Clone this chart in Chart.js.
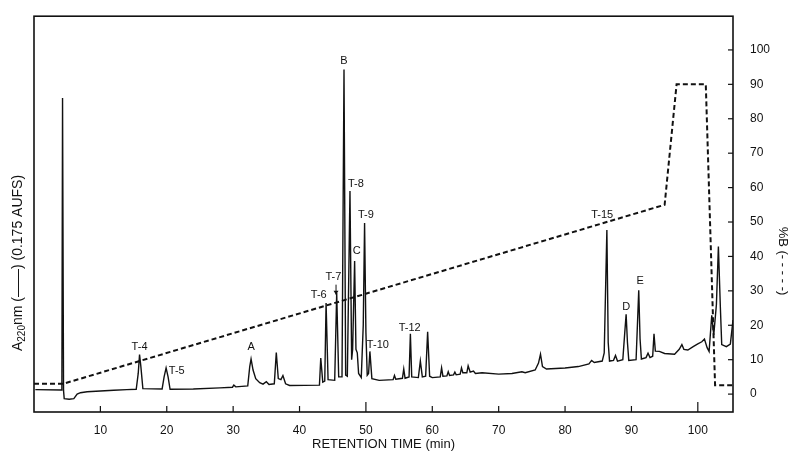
<!DOCTYPE html>
<html>
<head>
<meta charset="utf-8">
<script src="https://cdn.jsdelivr.net/npm/chart.js@4.4.0/dist/chart.umd.min.js"></script>
<style>
    html, body { margin: 0; padding: 0; background: #fff; }
    #contenedor { width: 792px; height: 462px; }
</style>
</head>
<body>
<div id="contenedor"><canvas id="miGrafico" width="792" height="462"></canvas></div>
<script>
// cromatograma A220 (en unidades del eje derecho)
const tiempos = [
    0.2, 4.1, 4.2, 4.3, 4.45, 4.55, 5.3, 6.0, 6.5, 7.0,
    8, 10, 12, 14, 15.4, 15.7, 15.9, 16.1, 16.4, 19.3,
    19.6, 19.9, 20.2, 20.5, 24, 28, 29.9, 30.1, 30.4, 32.2,
    32.5, 32.7, 33.0, 33.4, 34.0, 34.5, 35.0, 35.4, 36.2, 36.5,
    36.8, 37.2, 37.5, 37.9, 38.5, 43.0, 43.2, 43.5, 43.8, 44.0,
    44.3, 45.3, 45.6, 45.9, 46.4, 46.7, 46.95, 47.2, 47.6, 47.85,
    48.0, 48.3, 48.5, 48.7, 48.9, 49.3, 49.6, 49.8, 50.0, 50.2,
    50.4, 50.6, 50.9, 52, 54.1, 54.3, 54.5, 55.5, 55.7, 55.9,
    56.5, 56.7, 56.9, 57.9, 58.2, 58.5, 59.0, 59.3, 59.6, 60.0,
    61.2, 61.4, 61.6, 62.2, 62.4, 62.6, 63.2, 63.4, 63.6, 64.2,
    64.4, 64.6, 65.2, 65.4, 65.7, 66.2, 66.5, 67.5, 70, 72,
    73.5, 74.0, 75.5, 76.0, 76.3, 76.6, 77.2, 80, 82, 83.6,
    84.0, 84.4, 85.6, 85.9, 86.1, 86.3, 86.5, 86.7, 87.3, 87.6,
    87.9, 88.7, 89.0, 89.2, 89.4, 89.6, 90.7, 90.9, 91.1, 91.3,
    91.5, 92.2, 92.5, 92.8, 93.2, 93.4, 93.6, 94.2, 95.0, 96.5,
    97.2, 97.6, 97.9, 98.5, 99.3, 100.0, 100.6, 101.0, 101.4, 101.7,
    102.1, 102.4, 102.8, 103.1, 103.4, 103.6, 104.3, 104.9, 105.3
];
const absorbancia = [
    1.3, 1.2, 1.4, 86, 1, -1.3, -1.5, -1.3, 0.0, 0.4,
    0.7, 0.9, 1.1, 1.3, 1.4, 6, 11.5, 8, 1.6, 1.5,
    5, 7.6, 5, 1.4, 1.5, 1.8, 2.0, 2.6, 2.1, 2.4,
    8, 10.2, 7, 4.5, 3.3, 2.9, 3.6, 2.8, 3.0, 12.1,
    4.5, 4.2, 5.4, 3, 2.5, 2.6, 10.5, 3.5, 3.8, 26.5,
    4.2, 4.0, 29.4, 5, 5, 94.3, 5.5, 5.2, 59, 10,
    13, 38.7, 13, 12, 6, 4.8, 20, 49.7, 18, 5.5,
    6, 12.4, 4.5, 4, 4.2, 5.4, 4.3, 4.6, 7.3, 4.6,
    5, 17.5, 5, 4.8, 9.6, 5, 5.2, 18.1, 5.2, 4.8,
    5, 7.6, 5.2, 5.3, 6.5, 5.4, 5.6, 6.4, 5.6, 5.8,
    7.6, 6.2, 6.2, 8.2, 6.4, 6.7, 6.0, 6.2, 5.8, 6,
    6.5, 6.2, 7.0, 9, 11.6, 8, 7.3, 7.6, 8.0, 8.8,
    9.8, 9.2, 9.6, 12, 30, 47.7, 15, 9.6, 9.8, 11.2,
    9.6, 10, 18, 23.2, 15, 9.8, 10, 20, 30.2, 16,
    10.2, 10.6, 11.9, 10.6, 11, 17.5, 12.5, 12.4, 11.8, 11.6,
    13, 14.4, 13, 12.8, 13.8, 14.6, 15.2, 16, 13.5, 12.4,
    22.9, 17.2, 26, 42.9, 25, 14.4, 13.8, 14.5, 21.5
];

// gradiente %B
const tiemposGradiente = [0, 4.4, 95, 96.8, 101.2, 102.0, 102.6, 105.3];
const porcentajeB = [3, 3, 55, 90, 90, 40, 2.6, 2.6];

const ticksTiempo = [10, 20, 30, 40, 50, 60, 70, 80, 90, 100];
const ticksPorcentaje = [0, 10, 20, 30, 40, 50, 60, 70, 80, 90, 100];

const nombresPicos = ['T-4', 'T-5', 'A', 'T-6', 'T-7', 'B', 'T-8', 'C', 'T-9', 'T-10', 'T-12', 'T-15', 'D', 'E'];
const tiemposEtiqueta = [15.9, 21.5, 32.7, 42.9, 45.1, 46.7, 48.5, 48.6, 50.0, 51.8, 56.6, 85.6, 89.2, 91.3];
const nivelesEtiqueta = [13.8, 6.8, 13.6, 28.8, 33.9, 96.9, 61, 41.5, 52, 14.4, 19.2, 52, 25.4, 33];
const flechaT7 = [45.5, 31.8, 28.9];

const fuente = '"Liberation Sans", Arial, sans-serif';

const marcoYTextos = {
    id: 'marcoYTextos',
    afterDraw(chart) {
        const { ctx, chartArea: area, scales: { x, y } } = chart;
        ctx.save();
        ctx.strokeStyle = '#111';
        ctx.fillStyle = '#111';
        ctx.lineWidth = 1.6;
        ctx.strokeRect(area.left, area.top, area.right - area.left, area.bottom - area.top);

        ctx.lineWidth = 1.2;
        ticksTiempo.forEach(t => {
            const px = x.getPixelForValue(t);
            const largo = t % 50 === 0 ? 10 : 6;
            ctx.beginPath();
            ctx.moveTo(px, area.bottom);
            ctx.lineTo(px, area.bottom - largo);
            ctx.stroke();
        });
        ticksPorcentaje.forEach(v => {
            const py = y.getPixelForValue(v);
            ctx.beginPath();
            ctx.moveTo(area.right, py);
            ctx.lineTo(area.right - 5, py);
            ctx.stroke();
        });

        // nombres de los picos
        ctx.font = `11px ${fuente}`;
        ctx.textAlign = 'center';
        ctx.textBaseline = 'middle';
        nombresPicos.forEach((nombre, i) => {
            ctx.fillText(nombre, x.getPixelForValue(tiemposEtiqueta[i]), y.getPixelForValue(nivelesEtiqueta[i]));
        });

        // flecha de T-7
        const fx = x.getPixelForValue(flechaT7[0]);
        const fy1 = y.getPixelForValue(flechaT7[1]);
        const fy2 = y.getPixelForValue(flechaT7[2]);
        ctx.lineWidth = 1;
        ctx.beginPath();
        ctx.moveTo(fx, fy1);
        ctx.lineTo(fx, fy2);
        ctx.stroke();
        ctx.beginPath();
        ctx.moveTo(fx - 2.5, fy2 - 4);
        ctx.lineTo(fx + 2.5, fy2 - 4);
        ctx.lineTo(fx, fy2);
        ctx.closePath();
        ctx.fill();

        // título eje x
        ctx.font = `13px ${fuente}`;
        ctx.textAlign = 'center';
        ctx.fillText('RETENTION TIME (min)', (area.left + area.right) / 2, 444);

        // título izquierdo con subíndice
        ctx.save();
        ctx.translate(18, 263);
        ctx.rotate(-Math.PI / 2);
        ctx.textAlign = 'left';
        ctx.textBaseline = 'middle';
        const partes = [
            ['A', 14, 0],
            ['220', 10, 4],
            ['nm (——) (0.175 AUFS)', 14, 0]
        ];
        let ancho = 0;
        partes.forEach(p => { ctx.font = `${p[1]}px ${fuente}`; ancho += ctx.measureText(p[0]).width; });
        let pos = -ancho / 2;
        partes.forEach(p => {
            ctx.font = `${p[1]}px ${fuente}`;
            ctx.fillText(p[0], pos, p[2]);
            pos += ctx.measureText(p[0]).width;
        });
        ctx.restore();

        // título derecho
        ctx.save();
        ctx.translate(783, 261);
        ctx.rotate(Math.PI / 2);
        ctx.font = `13px ${fuente}`;
        ctx.textAlign = 'center';
        ctx.textBaseline = 'middle';
        ctx.fillText('%B (- - - - -)', 0, 0);
        ctx.restore();

        ctx.restore();
    }
};

new Chart(document.getElementById('miGrafico'), {
    type: 'line',
    data: {
        datasets: [{
            label: 'A220nm',
            data: tiempos.map((t, i) => ({ x: t, y: absorbancia[i] })),
            borderColor: '#111',
            borderWidth: 1.4,
            pointRadius: 0,
            tension: 0
        }, {
            label: '%B',
            data: tiemposGradiente.map((t, i) => ({ x: t, y: porcentajeB[i] })),
            borderColor: '#111',
            borderWidth: 2,
            borderDash: [5, 3],
            pointRadius: 0,
            tension: 0
        }]
    },
    options: {
        responsive: false,
        animation: false,
        devicePixelRatio: 1,
        layout: { padding: { left: 34, top: 6, right: 0, bottom: 0 } },
        plugins: {
            legend: { display: false },
            tooltip: { enabled: false }
        },
        scales: {
            x: {
                type: 'linear',
                min: 0,
                max: 105.3,
                afterBuildTicks: escala => { escala.ticks = ticksTiempo.map(v => ({ value: v })); },
                afterFit: escala => { escala.height = 50; },
                grid: { display: false },
                border: { display: false },
                ticks: { color: '#111', font: { size: 12, family: fuente }, padding: 3, maxRotation: 0 }
            },
            y: {
                position: 'right',
                min: -5.2,
                max: 109.8,
                afterBuildTicks: escala => { escala.ticks = ticksPorcentaje.map(v => ({ value: v })); },
                afterFit: escala => { escala.width = 59; },
                grid: { display: false },
                border: { display: false },
                ticks: { color: '#111', font: { size: 12, family: fuente }, padding: 9 }
            }
        }
    },
    plugins: [marcoYTextos]
});
</script>
</body>
</html>
